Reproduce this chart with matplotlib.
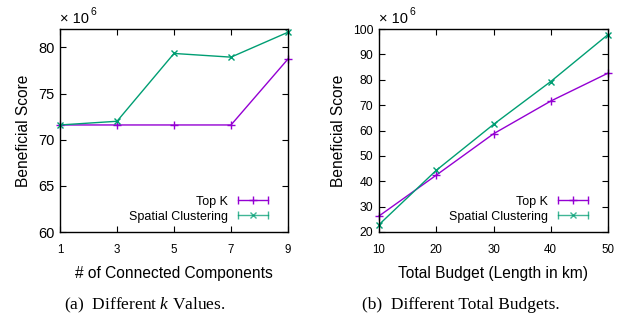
import matplotlib
matplotlib.use("Agg")
import matplotlib.pyplot as plt
from matplotlib.lines import Line2D
from matplotlib.legend_handler import HandlerLine2D, HandlerTuple

# Data
k_values = [1, 3, 5, 7, 9]
k_topk = [71.6, 71.6, 71.6, 71.6, 78.75]
k_spatial = [71.6, 72.0, 79.35, 78.95, 81.65]

budgets = [10, 20, 30, 40, 50]
b_topk = [26.3, 42.4, 58.7, 71.6, 82.6]
b_spatial = [22.9, 44.3, 62.4, 79.3, 97.8]

series_names = ["Top K", "Spatial Clustering"]
purple = "#9400d3"
green = "#009e73"

plt.rcParams['font.family'] = ['Liberation Sans', 'DejaVu Sans']

fig = plt.figure(figsize=(6.23, 3.22), dpi=100)
W, H = 623, 322

def make_ax(x0, x1, ytop, ybot):
    return fig.add_axes([x0 / W, (H - ybot) / H, (x1 - x0) / W, (ybot - ytop) / H])

axL = make_ax(60, 288, 29, 232)
axR = make_ax(379, 608, 29, 232)

def style(ax, xticks, ylim, yticks, xlabel, ysize):
    ax.set_xlim(xticks[0], xticks[-1])
    ax.set_ylim(*ylim)
    ax.set_xticks(xticks)
    ax.set_yticks(yticks)
    ax.tick_params(axis='both', direction='in', top=True, right=True, length=4, width=0.8)
    ax.tick_params(axis='x', labelsize=8.3, pad=8.5)
    ax.tick_params(axis='y', labelsize=ysize, pad=4)
    for s in ax.spines.values():
        s.set_linewidth(1.0)
    ax.set_ylabel("Beneficial Score", fontsize=11.2, labelpad=5)
    ax.set_xlabel(xlabel, fontsize=11.2, labelpad=7)

def legend_handle(color, marker, ms, alpha=1.0):
    caps = Line2D([], [], color=color, marker='|', ms=6, mew=1.0, lw=1.0, alpha=alpha)
    mark = Line2D([], [], color=color, marker=marker, ms=ms, mew=1.0, ls='none', alpha=alpha)
    return caps, mark

def draw(ax, x, y1, y2):
    ax.plot(x, y1, color=purple, marker='+', ms=6, mew=1.0, lw=1.0, clip_on=False)
    ax.plot(x, y2, color=green, marker='x', ms=5, mew=1.0, lw=1.0, clip_on=False)
    c1, m1 = legend_handle(purple, '+', 6)
    c2, m2 = legend_handle(green, 'x', 5, alpha=0.75)
    hmap = {c1: HandlerLine2D(numpoints=2), c2: HandlerLine2D(numpoints=2),
            m1: HandlerLine2D(numpoints=1), m2: HandlerLine2D(numpoints=1),
            tuple: HandlerTuple(ndivide=1)}
    ax.legend([(c1, m1), (c2, m2)], series_names, loc='lower right', frameon=False,
              markerfirst=False, fontsize=9, handlelength=3.0, handletextpad=0.5,
              labelspacing=0.25, borderaxespad=0.0, borderpad=0.0,
              bbox_to_anchor=(0.93, 0.045), handler_map=hmap)

draw(axL, k_values, k_topk, k_spatial)
style(axL, k_values, (60, 82), [60, 65, 70, 75, 80], "# of Connected Components", 10.5)

draw(axR, budgets, b_topk, b_spatial)
style(axR, budgets, (20, 100), [20, 30, 40, 50, 60, 70, 80, 90, 100],
      "Total Budget (Length in km)", 8.8)

for ax, x0 in ((axL, 60), (axR, 379)):
    fig.text(x0 / W, 1 - 23 / H, "× 10", fontsize=10.5, ha='left', va='baseline')
    fig.text((x0 + 30.5) / W, 1 - 15 / H, "6", fontsize=7.5, ha='left', va='baseline')

# captions
plt.rcParams['mathtext.fontset'] = 'custom'
plt.rcParams['mathtext.it'] = 'Liberation Serif:italic'
plt.rcParams['mathtext.rm'] = 'Liberation Serif'
fig.text(145 / W, 1 - 305 / H, "(a)  Different $k$ Values.", fontsize=12.5,
         family='Liberation Serif', ha='center', va='center')
fig.text(461 / W, 1 - 305 / H, "(b)  Different Total Budgets.", fontsize=12.5,
         family='Liberation Serif', ha='center', va='center')

fig.savefig("out.png", dpi=100)
